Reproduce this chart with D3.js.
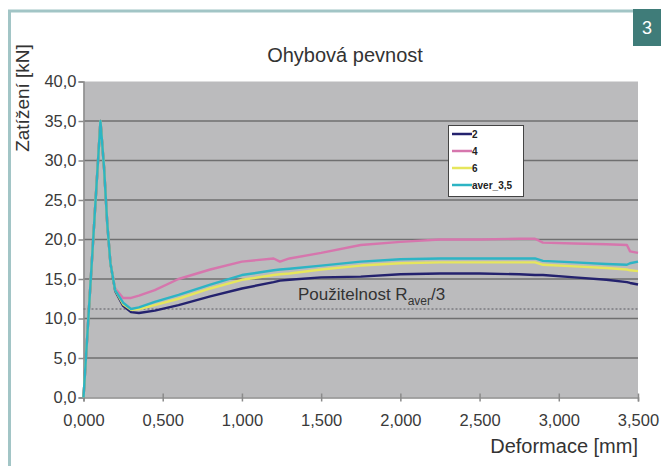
<!DOCTYPE html>
<meta charset="utf-8">

<!-- Load d3.js -->
<script src="https://d3js.org/d3.v7.min.js"></script>

<style>
	body { margin: 0; background: #fff; }
	text { font-family: "Liberation Sans", Arial, sans-serif; }
</style>

<!-- Create a div where the graph will take place -->
<div id="my_dataviz"></div>

<script>
	// Data
	var deformace = [0, 0.107, 0.13, 0.15, 0.17, 0.2, 0.25, 0.3, 0.35, 0.45, 0.6, 0.8, 1.0, 1.2, 1.24, 1.3, 1.5, 1.75, 2.0, 2.25, 2.5, 2.75, 2.85, 2.9, 3.1, 3.3, 3.43, 3.45, 3.5];
	var s2 = [0, 35.0, 29.0, 22.0, 17.0, 13.5, 11.6, 10.8, 10.7, 11.0, 11.7, 12.8, 13.8, 14.6, 14.8, 14.9, 15.2, 15.3, 15.6, 15.7, 15.7, 15.6, 15.5, 15.5, 15.2, 14.9, 14.6, 14.5, 14.3];
	var s4 = [0, 35.0, 29.0, 22.0, 17.0, 13.8, 12.6, 12.6, 12.9, 13.6, 15.0, 16.2, 17.2, 17.6, 17.2, 17.6, 18.3, 19.3, 19.7, 20.0, 20.0, 20.1, 20.1, 19.6, 19.5, 19.4, 19.3, 18.5, 18.3];
	var s6 = [0, 35.0, 29.0, 22.0, 17.0, 13.6, 11.8, 11.1, 11.2, 11.7, 12.5, 13.8, 14.9, 15.5, 15.6, 15.7, 16.2, 16.7, 17.0, 17.1, 17.1, 17.1, 17.1, 16.8, 16.6, 16.4, 16.2, 16.1, 16.0];
	var aver = [0, 35.0, 29.0, 22.0, 17.0, 13.6, 12.0, 11.2, 11.4, 12.1, 13.0, 14.3, 15.5, 16.1, 16.2, 16.3, 16.7, 17.2, 17.5, 17.6, 17.6, 17.6, 17.6, 17.3, 17.1, 16.9, 16.8, 17.0, 17.2];
	var series_names = ["2", "4", "6", "aver_3,5"];
	var series_colors = ["#24226e", "#d676ad", "#e6e65c", "#2db4c4"];
	var limit_value = 11.2;   // Raver/3
	var y_ticks = [0, 5, 10, 15, 20, 25, 30, 35, 40];
	var x_ticks = [0, 0.5, 1, 1.5, 2, 2.5, 3, 3.5];

	// Draw params
	var width = 661, height = 468;
	var p_left = 83.5, p_right = 638, p_top = 81.5, p_bottom = 397.5;

	var svg = d3.select("#my_dataviz")
		.append("svg")
		.attr("width", width)
		.attr("height", height);

	// Frame
	svg.append("path")
		.attr("d", "M9.5,466 L9.5,11 L633,11")
		.style("fill", "none")
		.style("stroke", "#a2c5c6")
		.style("stroke-width", 3);
	svg.append("rect")
		.attr("x", 633).attr("y", 9)
		.attr("width", 28).attr("height", 37)
		.style("fill", "#3f7c79");
	svg.append("text")
		.attr("x", 647).attr("y", 34)
		.attr("text-anchor", "middle")
		.style("font-size", "18px")
		.style("fill", "#fff")
		.text("3");

	// Scales
	var x = d3.scaleLinear()
		.domain([0, 3.5])
		.range([p_left, p_right]);
	var y = d3.scaleLinear()
		.domain([0, 40])
		.range([p_bottom, p_top]);

	// Plot area
	svg.append("rect")
		.attr("x", p_left).attr("y", p_top)
		.attr("width", p_right - p_left).attr("height", p_bottom - p_top)
		.style("fill", "#bbbbbd");

	// Grid lines
	svg.append("g")
		.selectAll("line")
		.data(y_ticks.filter(d => d > 0 && d < 40))
		.enter().append("line")
		.attr("x1", p_left).attr("x2", p_right)
		.attr("y1", d => y(d)).attr("y2", d => y(d))
		.style("stroke", "#6f6f70")
		.style("stroke-width", 1.6);

	// Y axis
	var yAxis = svg.append("g")
		.attr("transform", "translate(" + p_left + ",0)")
		.call(d3.axisLeft(y).tickValues(y_ticks).tickSize(5).tickPadding(2)
			.tickFormat(d => d3.format(".1f")(d).replace(".", ",")));
	// X axis
	var xAxis = svg.append("g")
		.attr("transform", "translate(0," + p_bottom + ")")
		.call(d3.axisBottom(x).tickValues(x_ticks).tickSize(4).tickPadding(13)
			.tickFormat(d => d3.format(".3f")(d).replace(".", ",")));
	xAxis.selectAll(".tick line").attr("y1", -4);
	[yAxis, xAxis].forEach(function(a){
		a.select(".domain").style("stroke", "#8a8a8a").style("stroke-width", 1.5);
		a.selectAll(".tick line").style("stroke", "#8a8a8a").style("stroke-width", 1.5);
		a.selectAll("text")
			.style("font-size", "16.5px")
			.style("fill", "#3a3a3a")
			.style("font-family", "'Liberation Sans', Arial, sans-serif");
	});

	// Limit line Raver/3
	svg.append("line")
		.attr("x1", p_left).attr("x2", p_right)
		.attr("y1", y(limit_value)).attr("y2", y(limit_value))
		.style("stroke", "#7c7c80")
		.style("stroke-width", 1.5)
		.style("stroke-dasharray", "2,2");
	var lbl = svg.append("text")
		.attr("x", 298).attr("y", 300)
		.style("font-size", "17px")
		.style("fill", "#333");
	lbl.append("tspan").text("Použitelnost R");
	lbl.append("tspan").attr("dy", 5).style("font-size", "12px").text("aver");
	lbl.append("tspan").attr("dy", -5).text("/3");

	// Lines
	var all_series = [s2, s4, s6, aver];
	var line = d3.line()
		.x((d, i) => x(deformace[i]))
		.y(d => y(d));
	all_series.forEach(function(s, k){
		svg.append("path")
			.datum(s)
			.attr("fill", "none")
			.attr("stroke", series_colors[k])
			.attr("stroke-width", 2.4)
			.attr("stroke-linejoin", "round")
			.attr("d", line);
	});

	// Legend
	var legend = svg.append("g");
	legend.append("rect")
		.attr("x", 448.5).attr("y", 125.5)
		.attr("width", 75).attr("height", 71)
		.style("fill", "#fff")
		.style("stroke", "#444")
		.style("stroke-width", 1);
	series_names.forEach(function(n, k){
		var yy = 134 + k * 17;
		legend.append("line")
			.attr("x1", 452).attr("x2", 472)
			.attr("y1", yy).attr("y2", yy)
			.style("stroke", series_colors[k])
			.style("stroke-width", 2.5);
		legend.append("text")
			.attr("x", 472).attr("y", yy + 3.5)
			.style("font-size", "10px")
			.style("font-weight", "bold")
			.style("fill", "#222")
			.text(n);
	});

	// Title and axis labels
	svg.append("text")
		.attr("x", 345).attr("y", 62)
		.attr("text-anchor", "middle")
		.style("font-size", "20px")
		.style("fill", "#333")
		.text("Ohybová pevnost");
	svg.append("text")
		.attr("x", 638).attr("y", 453)
		.attr("text-anchor", "end")
		.style("font-size", "20px")
		.style("fill", "#333")
		.text("Deformace [mm]");
	svg.append("text")
		.attr("transform", "translate(29,98) rotate(-90)")
		.attr("text-anchor", "middle")
		.style("font-size", "19px")
		.style("fill", "#333")
		.text("Zatížení [kN]");
</script>
